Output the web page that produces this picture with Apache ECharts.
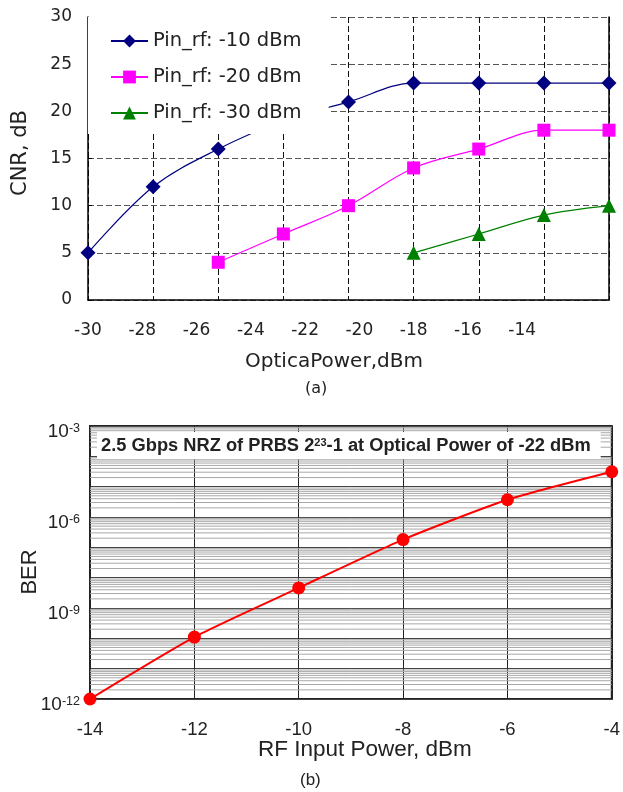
<!DOCTYPE html>
<html><head><meta charset="utf-8">
<script src="https://cdn.jsdelivr.net/npm/echarts@6/dist/echarts.min.js"></script>
<style>html,body{margin:0;padding:0;background:#fff}#c{width:623px;height:792px}</style>
</head><body><div id="c"></div>
<script>
// ---- Chart (a): CNR vs optical power ----
var opticalPower = [-30, -27.6, -25.2, -22.8, -20.4, -18, -15.6, -13.2, -10.8];
var cnrPin10 = [5, 12, 16, 19, 21, 23, 23, 23, 23];
var cnrPin20 = [null, null, 4, 7, 10, 14, 16, 18, 18];
var cnrPin30 = [null, null, null, null, null, 5, 7, 9, 10];
var cnrNames = ['Pin_rf: -10 dBm', 'Pin_rf: -20 dBm', 'Pin_rf: -30 dBm'];
var opticalTicks = [-30, -28, -26, -24, -22, -20, -18, -16, -14];
// ---- Chart (b): BER vs RF input power ----
var rfPower = [-14, -12, -10, -8, -6, -4];
var ber = [1e-12, 1.1e-10, 4.6e-9, 1.8e-7, 3.7e-6, 3.1e-5];
var berTitle = '2.5 Gbps NRZ of PRBS 2{s|23}-1 at Optical Power of -22 dBm';

var FA = '"DejaVu Sans", sans-serif';
var FB = '"Liberation Sans", Arial, sans-serif';
function pairs(xs, ys){ var o=[]; for(var i=0;i<xs.length;i++){ if(ys[i]!=null) o.push([xs[i], ys[i]]); } return o; }

// minor log grid positions (styling only: 2..9 x 10^e)
var minorGrid = [];
for (var e=-12; e<-3; e++) for (var m=2; m<10; m++) minorGrid.push([rfPower[0], m*Math.pow(10,e)]);

var chart = echarts.init(document.getElementById('c'), null, {renderer:'canvas'});
chart.setOption({
  animation:false,
  backgroundColor:'#fff',
  grid:[
    {left:88, top:17, width:521, height:283, containLabel:false},
    {left:90, top:426, width:523, height:273, show:true, borderColor:'#222', borderWidth:2, backgroundColor:'#fff'}
  ],
  legend:{
    data:cnrNames, orient:'vertical', left:88, top:17, padding:[14,27,11,22],
    backgroundColor:'#fff', itemWidth:37, itemHeight:16, itemGap:16,
    textStyle:{fontSize:19.5, lineHeight:20, color:'#222', fontFamily:FA}
  },
  xAxis:[
    {gridIndex:0, type:'value', min:-30, max:-10.8, interval:2,
     axisLine:{show:true, lineStyle:{color:'#000', width:1.5}}, axisTick:{show:false},
     splitLine:{show:false},
     axisLabel:{fontSize:17, color:'#222', margin:22, fontFamily:FA, showMaxLabel:false,
       formatter:function(v){ return opticalTicks.indexOf(Math.round(v))>=0 ? String(Math.round(v)) : ''; }},
     name:'OpticaPower,dBm', nameLocation:'middle', nameGap:52, nameMoveOverlap:false,
     nameTextStyle:{fontSize:20, color:'#222', fontFamily:FA, padding:[0,29,0,0]}},
    {gridIndex:0, type:'category', data:opticalPower.map(String), boundaryGap:false,
     axisLine:{show:false}, axisTick:{show:false}, axisLabel:{show:false},
     splitLine:{show:true, lineStyle:{color:'#111', type:[6,3], width:1}}},
    {gridIndex:1, type:'value', min:-14, max:-4, interval:2,
     axisLine:{show:false}, axisTick:{show:false},
     splitLine:{show:true, lineStyle:{color:'#222', width:1}},
     axisLabel:{fontSize:18.5, color:'#222', margin:21, fontFamily:FB},
     name:'RF Input Power, dBm', nameLocation:'middle', nameGap:39, nameMoveOverlap:false,
     nameTextStyle:{fontSize:22.5, color:'#222', fontFamily:FB, padding:[0,0,0,28]}}
  ],
  yAxis:[
    {gridIndex:0, type:'value', min:0, max:30, interval:5,
     axisLine:{show:true, lineStyle:{color:'#000', width:1.5}},
     axisTick:{show:true, inside:true, length:4, lineStyle:{color:'#000'}},
     splitLine:{show:true, lineStyle:{color:'#555', type:[6,3], width:1}},
     axisLabel:{fontSize:17, color:'#222', margin:16, fontFamily:FA},
     name:'CNR, dB', nameLocation:'middle', nameGap:57, nameMoveOverlap:false,
     nameTextStyle:{fontSize:21, color:'#222', fontFamily:FA, padding:[0,0,0,11]}},
    {gridIndex:0, type:'value', min:0, max:30, position:'right',
     axisLine:{show:true, lineStyle:{color:'#000', width:1.5}},
     axisTick:{show:false}, axisLabel:{show:false}, splitLine:{show:false}},
    {gridIndex:1, type:'log', logBase:10, min:1e-12, max:1e-3, interval:1,
     axisLine:{show:false}, axisTick:{show:false},
     splitLine:{show:true, lineStyle:{color:'#444', width:1}},
     axisLabel:{margin:10, color:'#222', padding:[12,0,0,0],
       formatter:function(v){ var ex=Math.round(Math.log10(v)); return (ex%3===0) ? '{b|10}{s|'+ex+'}' : ''; },
       rich:{b:{fontSize:19, color:'#222', fontFamily:FB}, s:{fontSize:12.5, color:'#222', fontFamily:FB, verticalAlign:'top'}}},
     name:'BER', nameLocation:'middle', nameGap:49, nameMoveOverlap:false,
     nameTextStyle:{fontSize:22, color:'#222', fontFamily:FB, padding:[0,0,0,-19]}}
  ],
  title:{
    text:berTitle, left:97, top:432,
    backgroundColor:'#fff', padding:[5,10,4,4],
    textStyle:{fontSize:18.3, fontWeight:'bold', color:'#222', fontFamily:FB,
      rich:{s:{fontSize:11, fontWeight:'bold', color:'#222', fontFamily:FB, verticalAlign:'top'}}}
  },
  graphic:[
    {type:'text', left:305, top:381, style:{text:'(a)', font:'16px '+FA, fill:'#222'}},
    {type:'text', left:300, top:772, style:{text:'(b)', font:'17px '+FB, fill:'#222'}}
  ],
  series:[
    {name:cnrNames[0], type:'line', xAxisIndex:0, yAxisIndex:0, data:pairs(opticalPower, cnrPin10),
     smooth:0.35, symbol:'diamond', symbolSize:15, itemStyle:{color:'#000080'}, lineStyle:{color:'#000080', width:1.2}},
    {name:cnrNames[1], type:'line', xAxisIndex:0, yAxisIndex:0, data:pairs(opticalPower, cnrPin20),
     smooth:0.35, symbol:'rect', symbolSize:13, itemStyle:{color:'#ff00ff'}, lineStyle:{color:'#ff00ff', width:1.2}},
    {name:cnrNames[2], type:'line', xAxisIndex:0, yAxisIndex:0, data:pairs(opticalPower, cnrPin30),
     smooth:0.35, symbol:'triangle', symbolSize:14, itemStyle:{color:'#008000'}, lineStyle:{color:'#008000', width:1.2}},
    {type:'custom', xAxisIndex:2, yAxisIndex:2, data:minorGrid, silent:true, z:1, clip:true,
     renderItem:function(params, api){
       var y = api.value(1);
       var p1 = api.coord([rfPower[0], y]);
       var p2 = api.coord([rfPower[rfPower.length-1], y]);
       return {type:'line', shape:{x1:p1[0], y1:p1[1], x2:p2[0], y2:p2[1]},
               style:{stroke:'#a8a8a8', lineWidth:1}};
     }},
    {name:'BER', type:'line', xAxisIndex:2, yAxisIndex:2, data:pairs(rfPower, ber), z:5,
     smooth:0.2, symbol:'circle', symbolSize:13, itemStyle:{color:'#ff0000'}, lineStyle:{color:'#ff0000', width:2}}
  ]
});
</script></body></html>
